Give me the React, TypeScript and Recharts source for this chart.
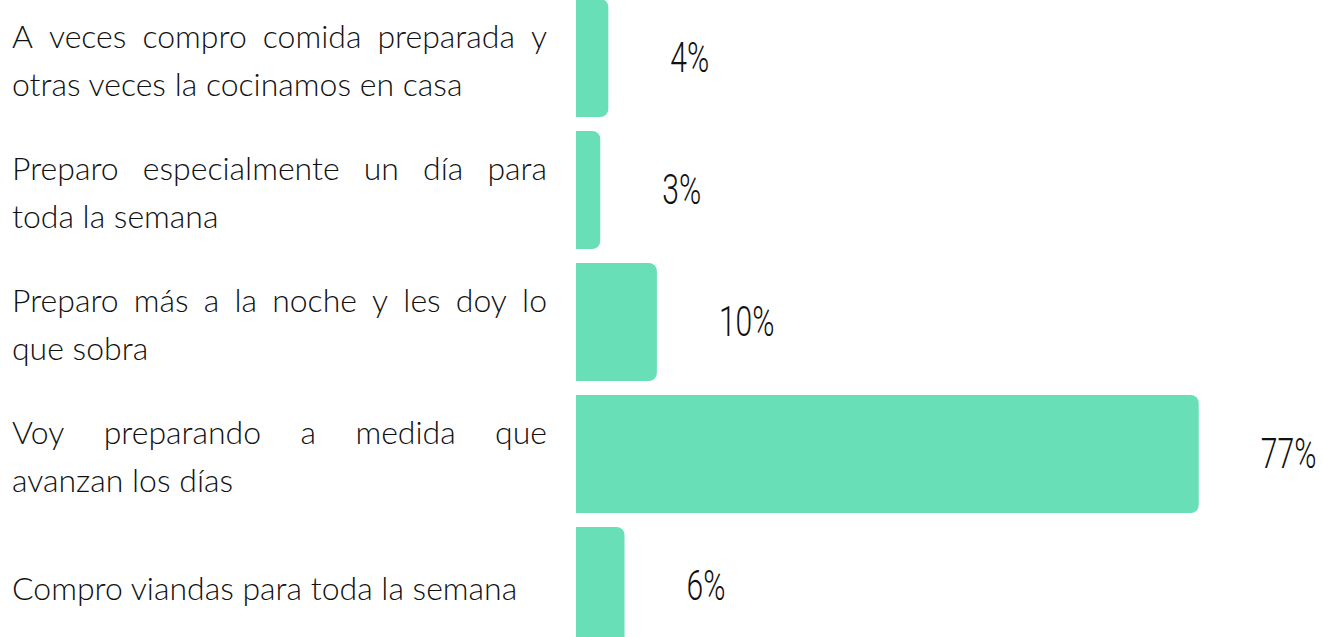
import { Bar, BarChart, LabelList, XAxis, YAxis } from "recharts";

const CATEGORIES = [
  "A veces compro comida preparada y otras veces la cocinamos en casa",
  "Preparo especialmente un día para toda la semana",
  "Preparo más a la noche y les doy lo que sobra",
  "Voy preparando a medida que avanzan los días",
  "Compro viandas para toda la semana",
];

// how each category label breaks into lines
const CATEGORY_LINES = [
  ["A veces compro comida preparada y", "otras veces la cocinamos en casa"],
  ["Preparo especialmente un día para", "toda la semana"],
  ["Preparo más a la noche y les doy lo", "que sobra"],
  ["Voy preparando a medida que", "avanzan los días"],
  ["Compro viandas para toda la semana"],
];

const SHARES = [4, 3, 10, 77, 6];

const data = CATEGORIES.map((name, i) => ({ name, value: SHARES[i] }));

const LABEL_FONT = "Lato";
const LABEL_WEIGHT = 300;
const LABEL_SIZE = 32;
const LINE_H = 48;
const LABEL_LEFT = 12;
const JUSTIFY_W = 535;

let ctx: CanvasRenderingContext2D | null = null;
function measure(s: string) {
  if (!ctx) {
    ctx = document.createElement("canvas").getContext("2d");
  }
  if (!ctx) return s.length * LABEL_SIZE * 0.5;
  ctx.font = `${LABEL_WEIGHT} ${LABEL_SIZE}px ${LABEL_FONT}`;
  return ctx.measureText(s).width;
}

function CategoryTick(props: any) {
  const { y, payload } = props;
  const idx = CATEGORIES.indexOf(payload.value);
  const lines = CATEGORY_LINES[idx] ?? [payload.value];
  const top = y + 1 - ((lines.length - 1) * LINE_H) / 2;
  const textProps = {
    fontFamily: LABEL_FONT,
    fontWeight: LABEL_WEIGHT,
    fontSize: LABEL_SIZE,
    fill: "#111",
    dominantBaseline: "central" as const,
  };
  return (
    <g>
      {lines.map((line, i) => {
        const ly = top + i * LINE_H;
        if (i === lines.length - 1) {
          return (
            <text key={i} x={LABEL_LEFT} y={ly} {...textProps}>
              {line}
            </text>
          );
        }
        // justified line: spread the words across the box
        const words = line.split(" ");
        const widths = words.map(measure);
        const total = widths.reduce((a, b) => a + b, 0);
        const gap = Math.max(
          LABEL_SIZE * 0.25,
          (JUSTIFY_W - total) / Math.max(1, words.length - 1)
        );
        let cx = LABEL_LEFT;
        return (
          <text key={i} y={ly} {...textProps}>
            {words.map((w, j) => {
              const x = cx;
              cx += widths[j] + gap;
              return (
                <tspan key={j} x={x}>
                  {w}
                </tspan>
              );
            })}
          </text>
        );
      })}
    </g>
  );
}

function ValueLabel(props: any) {
  const { x, y, width, height, value } = props;
  const lx = x + width + 62;
  const ly = y + height / 2;
  return (
    <text
      transform={`translate(${lx},${ly}) scale(0.7,1)`}
      fontFamily="Roboto"
      fontWeight={300}
      fontSize={43}
      fill="#111"
      dominantBaseline="central"
    >
      {value}%
    </text>
  );
}

export default function App() {
  return (
    <div
      style={{
        position: "absolute",
        left: 0,
        top: 0,
        width: 1323,
        height: 637,
        overflow: "hidden",
        background: "#fff",
      }}
    >
      <div style={{ marginTop: -8 }}>
        <BarChart
          width={1323}
          height={660}
          data={data}
          layout="vertical"
          margin={{ top: 0, right: 100, bottom: 0, left: 0 }}
          barCategoryGap={14}
        >
          <XAxis type="number" domain={[0, 80]} hide />
          <YAxis
            type="category"
            dataKey="name"
            width={576}
            axisLine={false}
            tickLine={false}
            tick={<CategoryTick />}
            interval={0}
          />
          <Bar
            dataKey="value"
            fill="#69DFB7"
            barSize={118}
            radius={[0, 8, 8, 0]}
            isAnimationActive={false}
          >
            <LabelList dataKey="value" content={<ValueLabel />} />
          </Bar>
        </BarChart>
      </div>
    </div>
  );
}
